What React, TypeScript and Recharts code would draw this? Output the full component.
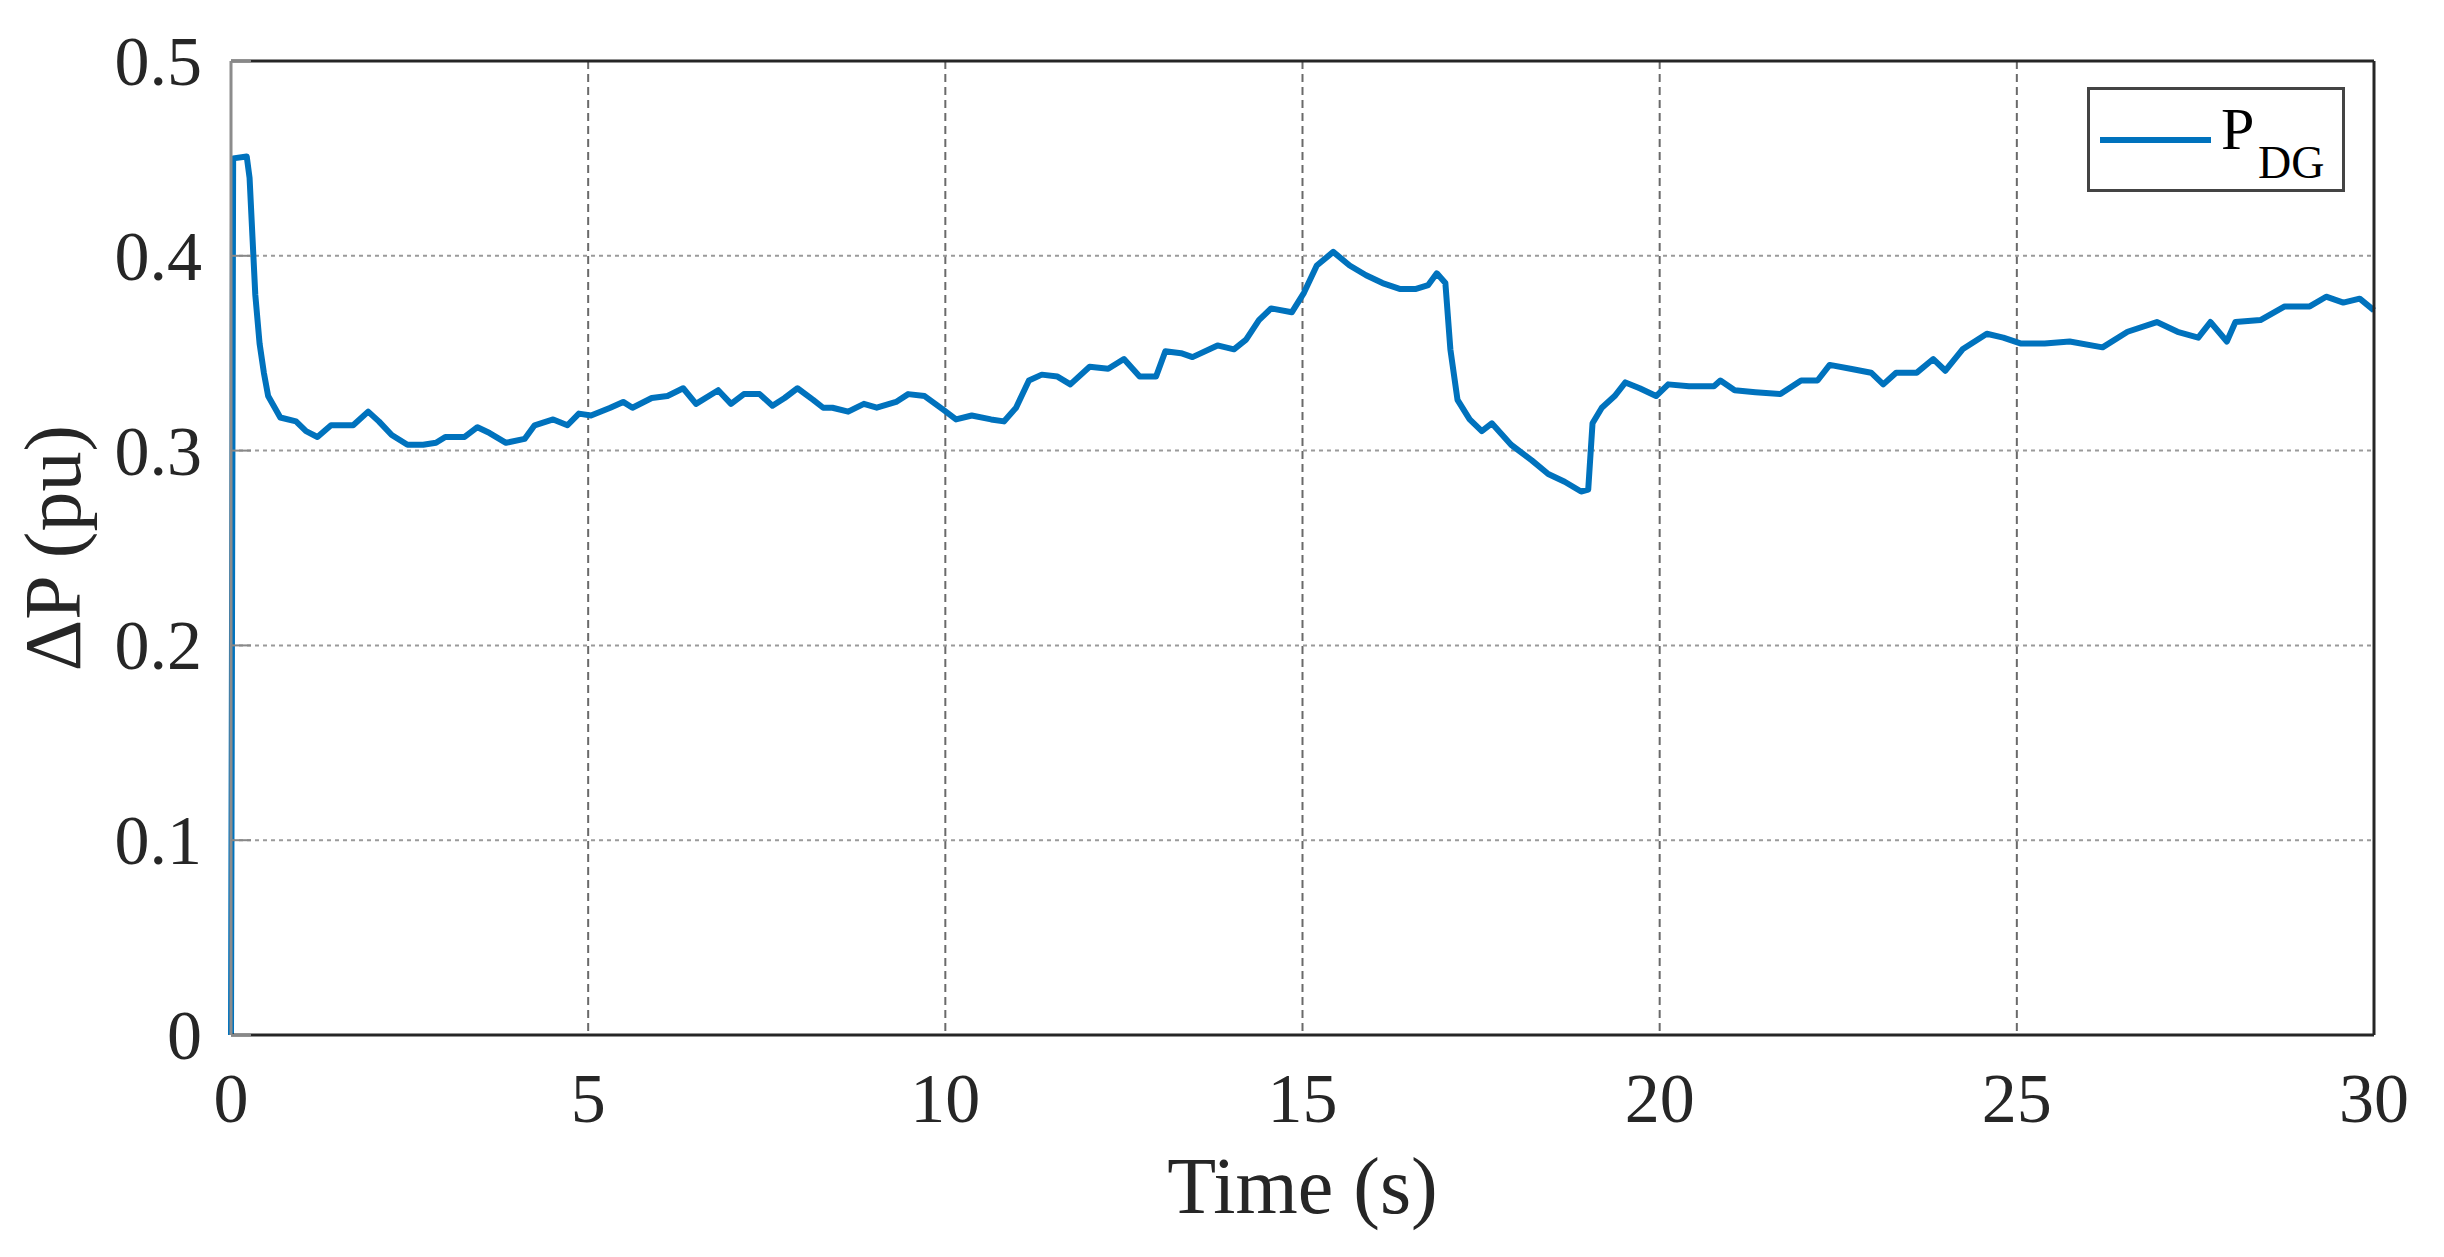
import React from "react";
import {
  LineChart,
  Line,
  XAxis,
  YAxis,
  CartesianGrid,
  Legend,
  Label,
} from "recharts";

const FONT = "'Liberation Serif', 'Times New Roman', serif";
const BLUE = "#0072BD";

// time (s) and P_DG (pu)
const time = [
  0, 0.03, 0.22, 0.26, 0.3, 0.34, 0.4, 0.46, 0.52, 0.69, 0.91, 1.05, 1.21, 1.4, 1.71,
  1.92, 2.07, 2.25, 2.47, 2.69, 2.87, 3.0, 3.27, 3.45, 3.62, 3.85, 4.11, 4.25,
  4.51, 4.71, 4.87, 5.04, 5.31, 5.49, 5.62, 5.89, 6.11, 6.33, 6.51, 6.82, 7.0,
  7.18, 7.4, 7.58, 7.75, 7.93, 8.15, 8.29, 8.42, 8.64, 8.86, 9.04, 9.31, 9.48,
  9.71, 9.97, 10.15, 10.37, 10.64, 10.82, 10.99, 11.17, 11.35, 11.57, 11.75,
  12.02, 12.28, 12.5, 12.72, 12.95, 13.08, 13.3, 13.46, 13.81, 14.04, 14.21,
  14.39, 14.56, 14.85, 15.02, 15.2, 15.43, 15.66, 15.89, 16.12, 16.36, 16.59,
  16.76, 16.88, 17.0, 17.07, 17.17, 17.34, 17.51, 17.65, 17.92, 18.21, 18.44,
  18.67, 18.9, 19.0, 19.06, 19.19, 19.37, 19.52, 19.72, 19.95, 20.12, 20.41,
  20.76, 20.85, 21.05, 21.34, 21.69, 21.98, 22.21, 22.38, 22.67, 22.96, 23.13,
  23.31, 23.6, 23.83, 24.0, 24.24, 24.58, 24.81, 25.05, 25.39, 25.74, 26.2,
  26.55, 26.96, 27.25, 27.54, 27.71, 27.94, 28.06, 28.41, 28.75, 29.1, 29.33,
  29.57, 29.8, 30.0,
];
const pdg = [
  0, 0.45, 0.451, 0.44, 0.41, 0.38, 0.355, 0.34, 0.328, 0.317, 0.315, 0.31, 0.307,
  0.313, 0.313, 0.32, 0.315, 0.308, 0.303, 0.303, 0.304, 0.307, 0.307, 0.312,
  0.309, 0.304, 0.306, 0.313, 0.316, 0.313, 0.319, 0.318, 0.322, 0.325, 0.322,
  0.327, 0.328, 0.332, 0.324, 0.331, 0.324, 0.329, 0.329, 0.323, 0.327, 0.332,
  0.326, 0.322, 0.322, 0.32, 0.324, 0.322, 0.325, 0.329, 0.328, 0.321, 0.316,
  0.318, 0.316, 0.315, 0.322, 0.336, 0.339, 0.338, 0.334, 0.343, 0.342, 0.347,
  0.338, 0.338, 0.351, 0.35, 0.348, 0.354, 0.352, 0.357, 0.367, 0.373, 0.371,
  0.381, 0.395, 0.402, 0.395, 0.39, 0.386, 0.383, 0.383, 0.385, 0.391, 0.386,
  0.352, 0.326, 0.316, 0.31, 0.314, 0.303, 0.295, 0.288, 0.284, 0.279, 0.28,
  0.314, 0.322, 0.328, 0.335, 0.332, 0.328, 0.334, 0.333, 0.333, 0.336, 0.331,
  0.33, 0.329, 0.336, 0.336, 0.344, 0.342, 0.34, 0.334, 0.34, 0.34, 0.347,
  0.341, 0.352, 0.36, 0.358, 0.355, 0.355, 0.356, 0.353, 0.361, 0.366, 0.361,
  0.358, 0.366, 0.356, 0.366, 0.367, 0.374, 0.374, 0.379, 0.376, 0.378, 0.372,
];

const xTicks = [0, 5, 10, 15, 20, 25, 30];
const yTicks = [0, 0.1, 0.2, 0.3, 0.4, 0.5];

const data = time.map((t, i) => ({ t, p: pdg[i] }));

const LeftTick = ({ x, y, payload }: any) => (
  <g>
    <line x1={x} y1={y} x2={x + 20} y2={y} stroke="#888" strokeWidth={2} />
    <text x={x - 29} y={y + 24} textAnchor="end" fontSize={70} fontFamily={FONT} fill="#262626">
      {String(payload.value)}
    </text>
  </g>
);

const BottomTick = ({ x, y, payload }: any) => (
  <text x={x} y={y + 87} textAnchor="middle" fontSize={70} fontFamily={FONT} fill="#262626">
    {String(payload.value)}
  </text>
);

const RightTick = ({ x, y }: any) => (
  <line x1={x} y1={y} x2={x - 20} y2={y} stroke="#888" strokeWidth={2} />
);

const LegendBox = () => (
  <svg width={258} height={105}>
    <rect x={1.5} y={1.5} width={255} height={102} fill="#fff" stroke="#444" strokeWidth={3} />
    <line x1={13} y1={53} x2={124} y2={53} stroke={BLUE} strokeWidth={6} />
    <text x={134} y={62} fontSize={60} fontFamily={FONT} fill="#000">P</text>
    <text x={171} y={91} fontSize={46} fontFamily={FONT} fill="#000">DG</text>
  </svg>
);

export default function App() {
  return (
    <div style={{ position: "absolute", left: 0, top: 0, background: "#fff" }}>
      <LineChart width={2444} height={1257} data={data} margin={{ top: 0, right: 0, left: 0, bottom: 0 }}>
        <CartesianGrid horizontal={false} stroke="#6a6a6a" strokeDasharray="8 5" strokeWidth={2} />
        <CartesianGrid vertical={false} stroke="#9a9a9a" strokeDasharray="4 4" strokeWidth={2} />
        <XAxis
          dataKey="t"
          type="number"
          domain={[0, 30]}
          ticks={xTicks}
          height={222}
          tickSize={0}
          tickMargin={0}
          tick={<BottomTick />}
          axisLine={{ stroke: "#262626", strokeWidth: 3 }}
          tickLine={false}
        >
          <Label value="Time (s)" position="insideBottom" offset={44} fontSize={80} fontFamily={FONT} fill="#262626" />
        </XAxis>
        <XAxis
          xAxisId="top"
          orientation="top"
          type="number"
          domain={[0, 30]}
          ticks={xTicks}
          height={61}
          tick={false}
          axisLine={{ stroke: "#262626", strokeWidth: 3 }}
          tickLine={false}
        />
        <YAxis
          type="number"
          domain={[0, 0.5]}
          ticks={yTicks}
          width={231}
          tickSize={0}
          tickMargin={0}
          tick={<LeftTick />}
          axisLine={{ stroke: "#8c8c8c", strokeWidth: 3 }}
          tickLine={false}
        >
          <Label
            content={({ viewBox }: any) => {
              const cx = viewBox.x + 80;
              const cy = viewBox.y + viewBox.height / 2;
              return (
                <text
                  x={cx}
                  y={cy}
                  transform={`rotate(-90, ${cx}, ${cy})`}
                  textAnchor="middle"
                  fontSize={80}
                  fontFamily={FONT}
                  fill="#262626"
                >
                  ΔP (pu)
                </text>
              );
            }}
          />
        </YAxis>
        <YAxis
          yAxisId="right"
          orientation="right"
          type="number"
          domain={[0, 0.5]}
          ticks={yTicks}
          width={70}
          tickSize={0}
          tickMargin={0}
          tick={<RightTick />}
          axisLine={{ stroke: "#262626", strokeWidth: 3 }}
          tickLine={false}
        />
        <Legend
          layout="vertical"
          align="center"
          verticalAlign="middle"
          content={<LegendBox />}
          wrapperStyle={{ left: 2087, top: 87, width: 258, height: 105 }}
        />
        <Line
          type="linear"
          dataKey="p"
          name="P_DG"
          stroke={BLUE}
          strokeWidth={6}
          strokeLinejoin="round"
          dot={false}
          isAnimationActive={false}
        />
      </LineChart>
    </div>
  );
}
